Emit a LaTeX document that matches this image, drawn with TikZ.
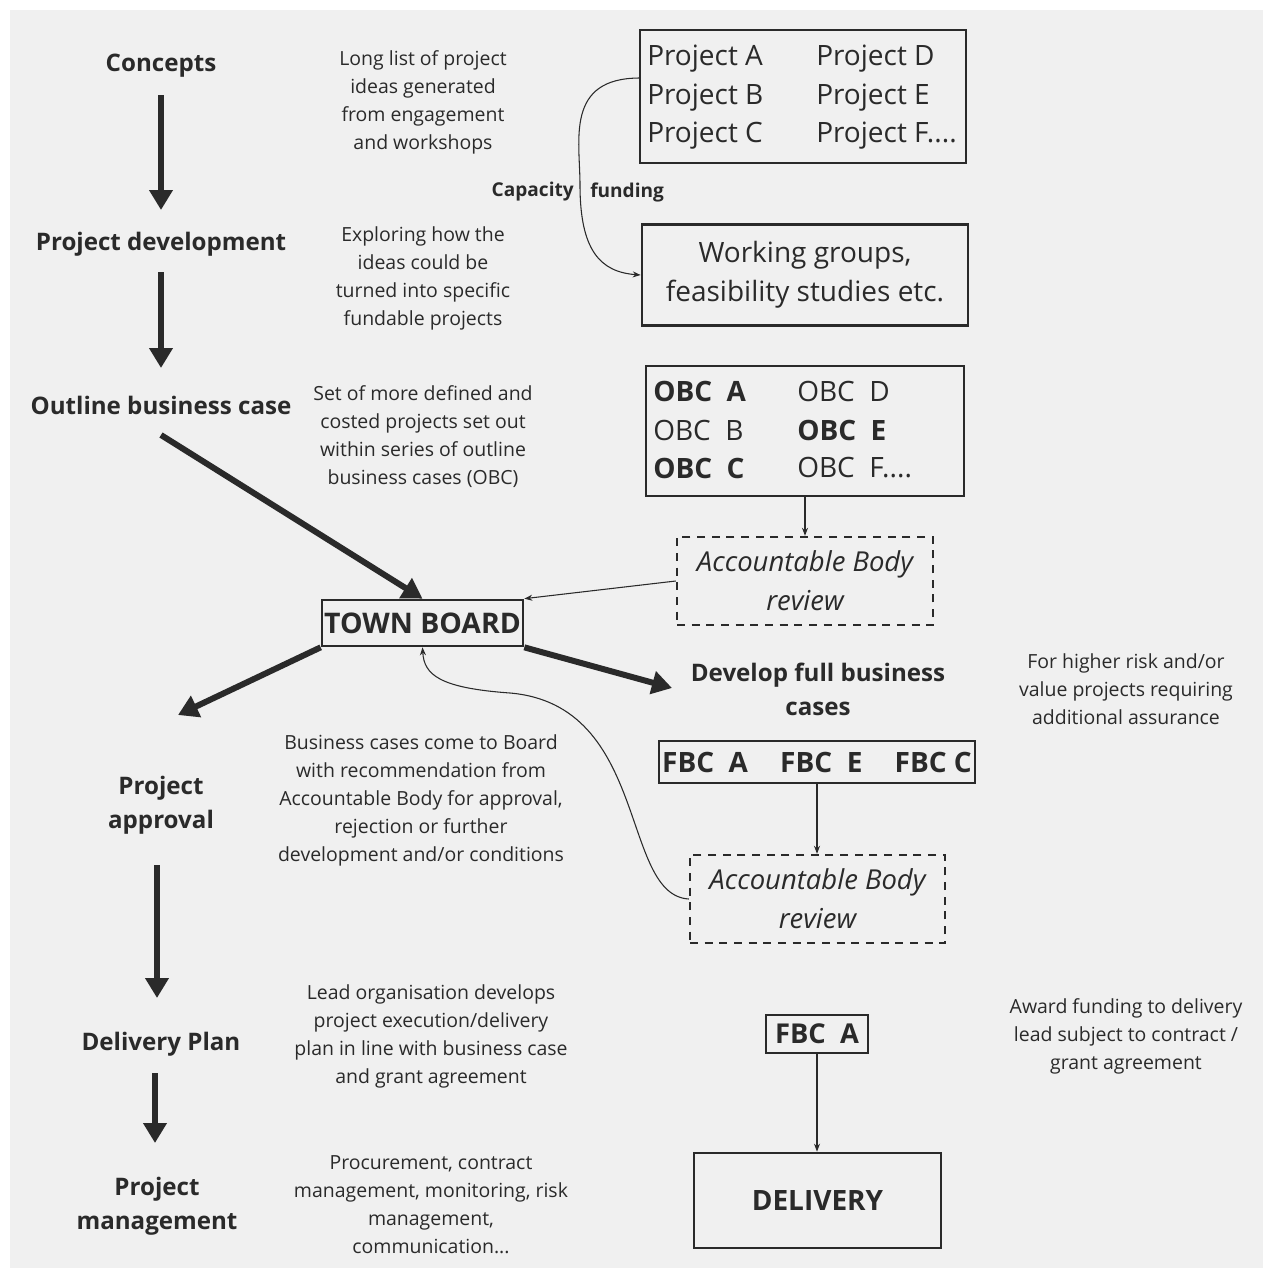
\documentclass[tikz,border=0pt]{standalone}
\usepackage{fontspec}
\setmainfont{Open Sans}
\usetikzlibrary{arrows.meta}
\definecolor{bg}{HTML}{F0F0F0}
\definecolor{ink}{HTML}{2A2A2A}
\begin{document}
\begin{tikzpicture}[x=0.75pt,y=-0.75pt,
  stage/.style={font=\fontsize{18.1}{25.5}\selectfont\bfseries, align=center, text=ink, inner sep=0pt},
  note/.style={font=\fontsize{14.6}{21}\selectfont, align=center, text=ink, inner sep=0pt},
  boxtxt/.style={font=\fontsize{21}{29}\selectfont, text=ink, inner sep=0pt, anchor=west},
  box/.style={draw=ink, line width=2pt, inner sep=0pt},
  dbox/.style={draw=ink, line width=1.8pt, dash pattern=on 6pt off 5pt, inner sep=0pt,
    font=\fontsize{20.6}{29}\selectfont\itshape, text=ink, align=center},
  bigarrow/.style={draw=ink, line width=4.5pt, -{Triangle[length=15pt,width=17pt]}},
  thinarrow/.style={draw=ink, line width=0.8pt, -{Stealth[length=6pt,width=4.5pt]}}
]
\useasboundingbox (0,0) rectangle (1263,1268);
\fill[white] (0,0) rectangle (1263,1268);
\fill[bg] (10,10) rectangle (1263,1268);

% ---- left column stages
\node[stage] (s1) at (161,66) {Concepts};
\node[stage] (s2) at (161,244) {Project development};
\node[stage] (s3) at (161,405) {Outline business case};
\node[stage] (s4) at (161,805) {Project\\approval};
\node[stage] (s5) at (161,1044) {Delivery Plan};
\node[stage] (s6) at (157,1206) {Project\\management};

\coordinate (a1s) at (161,95);  \coordinate (a1e) at (161,210);
\coordinate (a2s) at (161,272); \coordinate (a2e) at (161,368);
\coordinate (a3s) at (161,435);
\coordinate (a4e) at (178,715);
\coordinate (a5e) at (672,688);
\coordinate (a6s) at (157,865); \coordinate (a6e) at (157,998);
\coordinate (a7s) at (155,1073); \coordinate (a7e) at (155,1143);

% ---- middle notes
\node[note] (n1) at (423,102) {Long list of project\\ideas generated\\from engagement\\and workshops};
\node[note] (n2) at (423,278) {Exploring how the\\ideas could be\\turned into specific\\fundable projects};
\node[note] (n3) at (423,437) {Set of more defined and\\costed projects set out\\within series of outline\\business cases (OBC)};
\node[note] (n4) at (421,800) {Business cases come to Board\\with recommendation from\\Accountable Body for approval,\\rejection or further\\development and/or conditions};
\node[note] (n5) at (431,1036) {Lead organisation develops\\project execution/delivery\\plan in line with business case\\and grant agreement};
\node[note] (n6) at (431,1205) {Procurement, contract\\management, monitoring, risk\\management,\\communication...};

% ---- right notes
\node[note] (r1) at (1126,689) {For higher risk and/or\\value projects requiring\\additional assurance};
\node[note] (r2) at (1126,1036) {Award funding to delivery\\lead subject to contract /\\grant agreement};

% ---- projects box
\node[box, minimum width=244.5pt, minimum height=99.75pt] (pa) at (803,96.5) {};
\node[boxtxt] (pA) at (647,59) {Project A};
\node[boxtxt] (pB) at (647,98) {Project B};
\node[boxtxt] (pC) at (647,136) {Project C};
\node[boxtxt] (pD) at (816,59) {Project D};
\node[boxtxt] (pE) at (816,98) {Project E};
\node[boxtxt] (pF) at (816,136) {Project F....};

% ---- working groups
\node[box, minimum width=244.5pt, minimum height=75.75pt,
  font=\fontsize{21}{29}\selectfont, text=ink, align=center] (wg) at (805,275) {Working groups,\\feasibility studies etc.};

% capacity funding curve
\coordinate (cfs) at (640,78);
\draw[thinarrow] (cfs) .. controls (565,78) and (580,140) .. (580,185)
  .. controls (580,250) and (600,272) .. (wg.west);
\node[stage, font=\fontsize{14.3}{18}\selectfont\bfseries, anchor=east] (cap) at (574,192) {Capacity};
\node[stage, font=\fontsize{14.3}{18}\selectfont\bfseries, anchor=west] (fund) at (590,192) {funding};

% ---- OBC box
\node[box, minimum width=238.5pt, minimum height=97.5pt] (obc) at (805,431) {};
\node[boxtxt] (oA) at (653,391) {\bfseries OBC~~A};
\node[boxtxt] (oB) at (653,430) {OBC~~B};
\node[boxtxt] (oC) at (653,468) {\bfseries OBC~~C};
\node[boxtxt] (oD) at (797,391) {OBC~~D};
\node[boxtxt] (oE) at (797,430) {\bfseries OBC~~E};
\node[boxtxt] (oF) at (797,468) {OBC~~F....};

% ---- accountable body review 1
\node[dbox, minimum width=192pt, minimum height=66pt] (ab1) at (805,581) {Accountable Body\\review};
\draw[thinarrow] (obc.south) -- (ab1.north);

% ---- town board
\node[box, minimum width=150.75pt, minimum height=34.5pt,
  font=\fontsize{21.3}{25}\selectfont\bfseries, text=ink] (tb) at (422.5,623) {TOWN BOARD};
\draw[thinarrow] (ab1.west) -- (tb.north east);

% ---- develop full business cases
\node[stage] (dev) at (818,689) {Develop full business\\cases};

\node[box, minimum width=237pt, minimum height=31.5pt,
  font=\fontsize{21}{24}\selectfont\bfseries, text=ink] (fbc) at (817,762)
  {FBC~~A\hspace{1.15em}FBC~~E\hspace{1.15em}FBC~C};

\node[dbox, minimum width=191.25pt, minimum height=66pt] (ab2) at (817.5,899) {Accountable Body\\review};
\draw[thinarrow] (fbc.south) -- (ab2.north -| fbc.south);
\draw[thinarrow] (ab2.west) .. controls (620,895) and (650,705) .. (510,693)
  .. controls (440,688) and (424,675) .. (tb.south);

% ---- FBC A and delivery
\node[box, minimum width=76.5pt, minimum height=28.5pt,
  font=\fontsize{20.5}{24}\selectfont\bfseries, text=ink] (fbca) at (817,1034) {FBC~~A};
\node[box, minimum width=185.25pt, minimum height=71.25pt,
  font=\fontsize{21}{24}\selectfont\bfseries, text=ink] (dl) at (817.5,1200.5) {DELIVERY};
\draw[thinarrow] (fbca.south) -- (dl.north -| fbca.south);

% ---- thick arrows
\draw[bigarrow] (a1s) -- (a1e);
\draw[bigarrow] (a2s) -- (a2e);
\draw[bigarrow] (a3s) -- (tb.north);
\draw[bigarrow] (tb.south west) -- (a4e);
\draw[bigarrow] (tb.south east) -- (a5e);
\draw[bigarrow] (a6s) -- (a6e);
\draw[bigarrow] (a7s) -- (a7e);
\end{tikzpicture}
\end{document}
